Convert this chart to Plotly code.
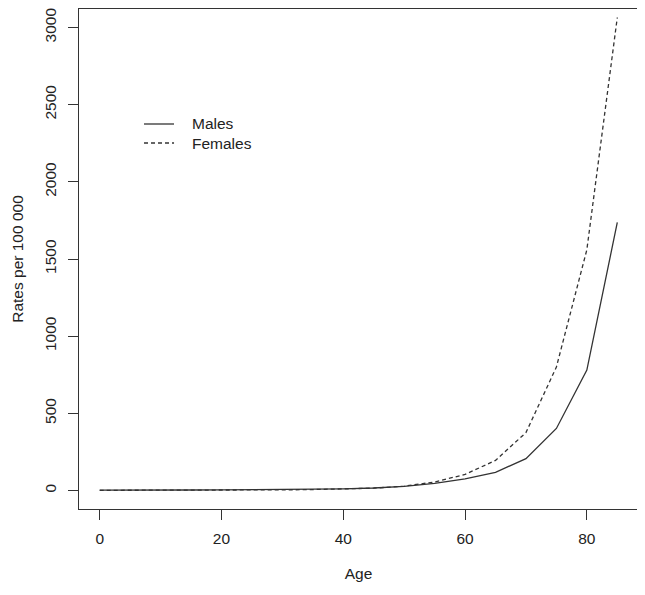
import plotly.graph_objects as go

ages = [0, 5, 10, 15, 20, 25, 30, 35, 40, 45, 50, 55, 60, 65, 70, 75, 80, 85]
males = [2, 1, 2, 3, 4, 5, 6, 8, 11, 16, 27, 46, 75, 118, 206, 402, 780, 1737]
females = [1, 1, 1, 1, 2, 3, 4, 6, 9, 15, 28, 55, 104, 195, 375, 800, 1560, 3065]

x_ticks = [0, 20, 40, 60, 80]
y_ticks = [0, 500, 1000, 1500, 2000, 2500, 3000]
series_names = ["Males", "Females"]

FONT = "Liberation Sans, Arial, sans-serif"
LINE = "#333333"
FS = 15.5
DASH = "4px,3px"

fig = go.Figure()
fig.add_trace(go.Scatter(x=ages, y=males, mode="lines", name=series_names[0],
                         showlegend=False, line=dict(color=LINE, width=1.3)))
fig.add_trace(go.Scatter(x=ages, y=females, mode="lines", name=series_names[1],
                         showlegend=False, line=dict(color=LINE, width=1.3, dash=DASH)))

# legend (R-style, no box): key lines + labels in paper coordinates
legend_rows = [(0.770, "solid"), (0.732, DASH)]
for (ypos, dash), label in zip(legend_rows, series_names):
    fig.add_shape(type="line", xref="paper", yref="paper",
                  x0=0.1163, x1=0.170, y0=ypos, y1=ypos,
                  line=dict(color=LINE, width=1.3, dash=dash))
    fig.add_annotation(xref="paper", yref="paper", x=0.1986, y=ypos,
                       xanchor="left", yanchor="middle", showarrow=False,
                       text=label, font=dict(family=FONT, size=FS, color="#222"))

axis_common = dict(showline=True, linecolor=LINE, linewidth=1, mirror=True,
                   ticks="outside", ticklen=10, tickcolor=LINE, tickwidth=1,
                   showgrid=False, zeroline=False, automargin=False,
                   ticklabeloverflow="allow",
                   tickfont=dict(family=FONT, size=FS, color="#222"))

# page body has an 8px default margin, so the figure is sized to fit
fig.update_layout(
    width=637, height=587,
    margin=dict(l=71, r=7, t=1, b=86),
    plot_bgcolor="white", paper_bgcolor="white",
    font=dict(family=FONT, size=FS, color="#222"),
    showlegend=False,
    xaxis=dict(range=[-3.4, 88.4], tickvals=x_ticks, ticklabelstandoff=5,
               title=dict(text="Age", standoff=22, font=dict(size=FS)), **axis_common),
    yaxis=dict(range=[-120, 3120], tickvals=y_ticks, tickangle=-90, ticklabelstandoff=6,
               title=dict(text="Rates per 100 000", standoff=14, font=dict(size=FS)), **axis_common),
)

fig.write_html("out.html")
